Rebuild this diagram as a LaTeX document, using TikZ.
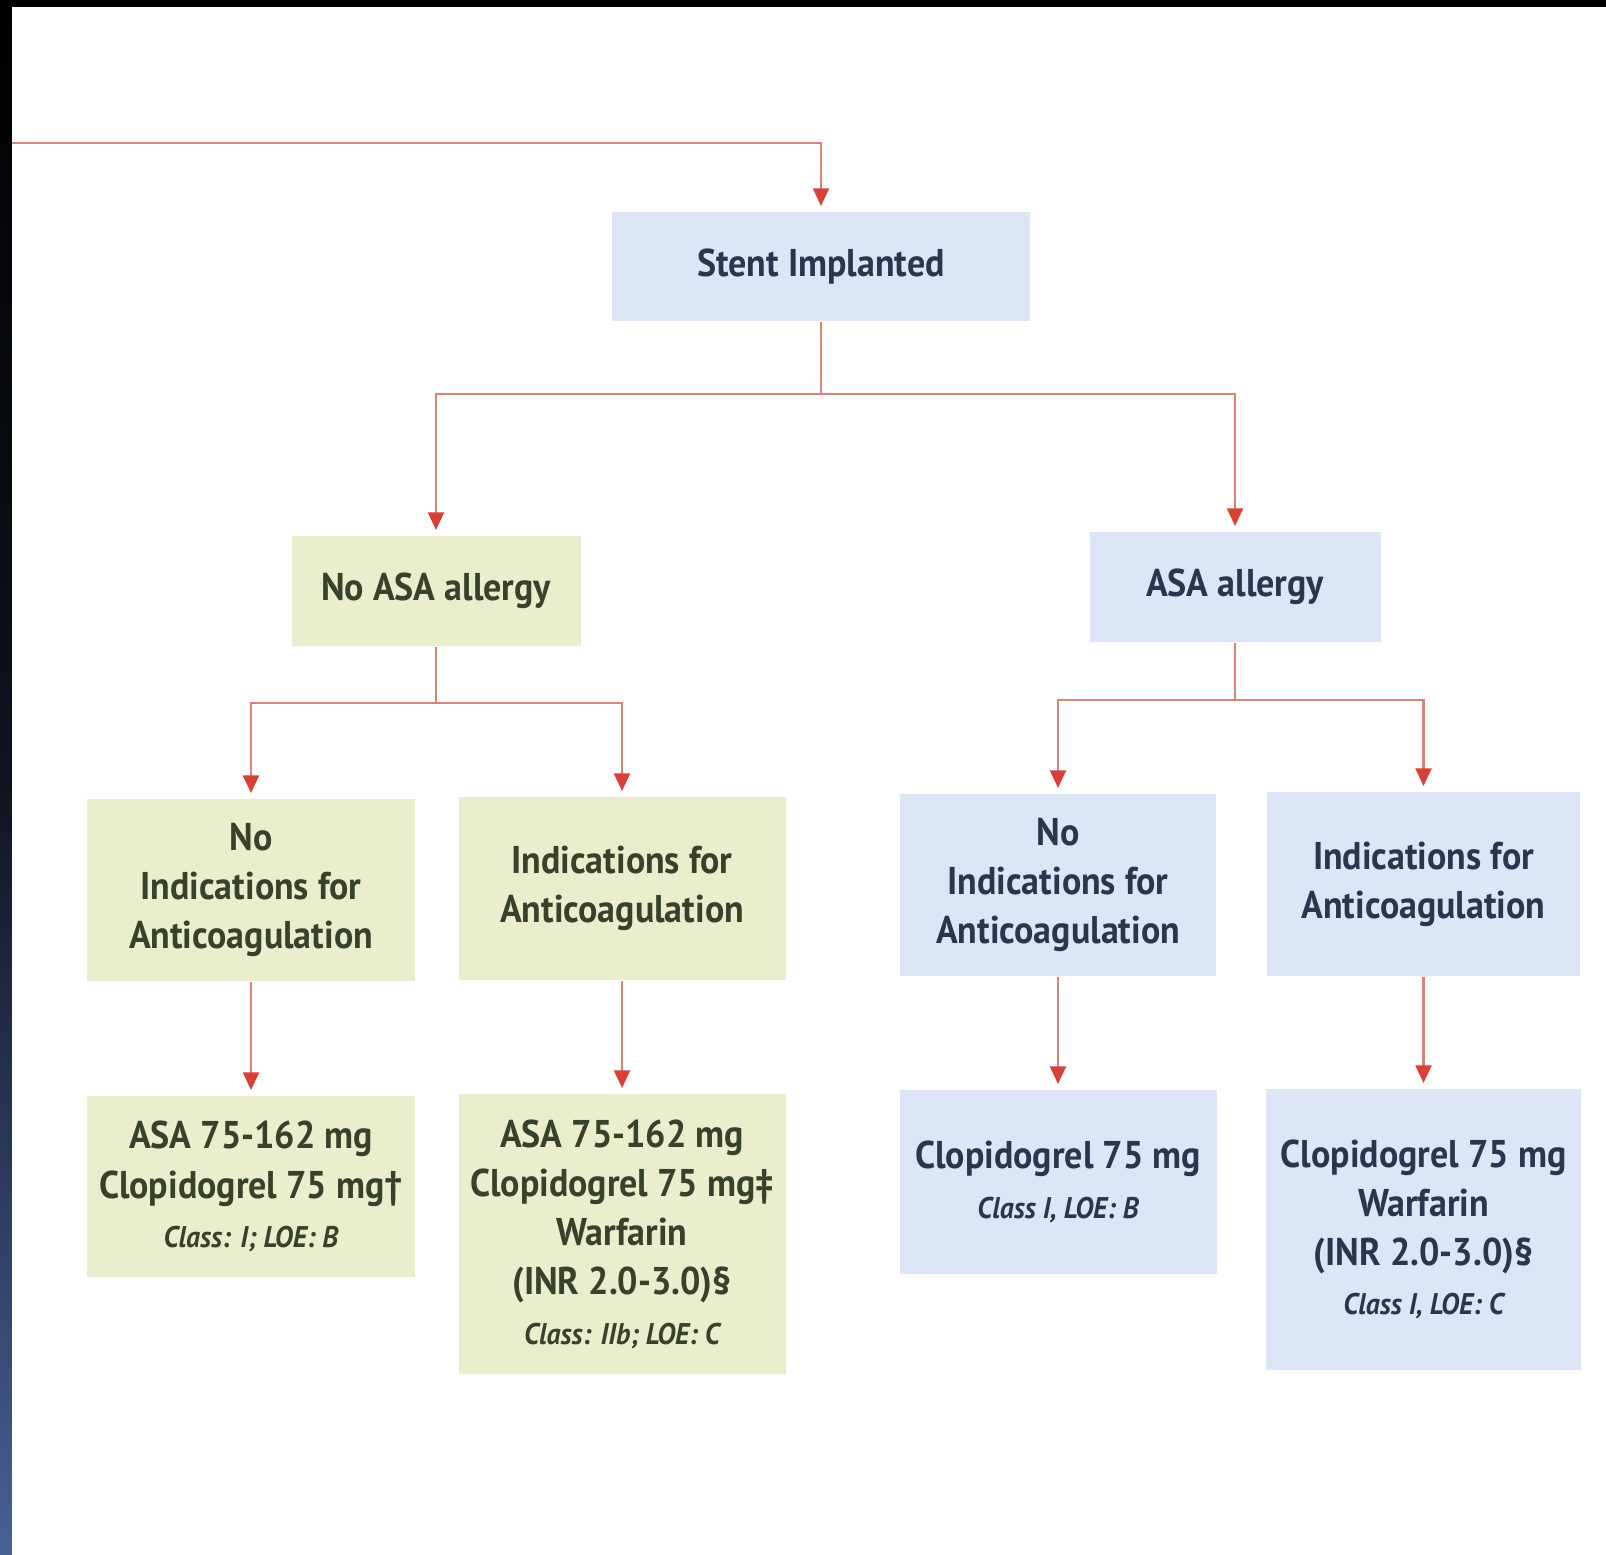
\documentclass[tikz,border=0pt]{standalone}
\usepackage{fontspec}
\setmainfont{PT Sans}[FakeStretch=0.93]
\usetikzlibrary{arrows.meta,positioning}
\definecolor{boxgreen}{RGB}{234,238,205}
\definecolor{boxblue}{RGB}{221,230,246}
\definecolor{txtgreen}{RGB}{56,66,42}
\definecolor{txtblue}{RGB}{42,54,78}
\definecolor{linkline}{RGB}{214,132,116}
\definecolor{linktip}{RGB}{214,64,54}
\definecolor{edgenavy}{RGB}{72,96,150}
\newcommand{\classline}[1]{{\itshape\fontsize{8.5}{14}\selectfont #1}}
\begin{document}
\begin{tikzpicture}[x=1cm,y=1cm,
    greenbox/.style={fill=boxgreen,text=txtgreen,align=center,inner sep=0pt,
      font=\bfseries\fontsize{11}{14}\selectfont},
    bluebox/.style={fill=boxblue,text=txtblue,align=center,inner sep=0pt,
      font=\bfseries\fontsize{11}{14}\selectfont},
    link/.style={draw=linkline,line width=0.7pt,shorten >=1.5pt,
      -{Triangle[width=4.5pt,length=5pt,color=linktip]}}]
  \useasboundingbox (0,0) rectangle (16.06,-15.54);
  \fill[white] (0,0) rectangle (16.06,-15.54);
  \shade[top color=black,bottom color=edgenavy,middle color=black!80!edgenavy] (0,0) rectangle (0.12,-15.54);
  \fill[black] (0,0) rectangle (16.06,-0.07);

  \node[bluebox,minimum width=4.18cm,minimum height=1.09cm] (stent) at (8.21,-2.665) {Stent Implanted};
  \node[greenbox,minimum width=2.89cm,minimum height=1.10cm] (noasa) at (4.36,-5.91) {No ASA allergy};
  \node[bluebox,minimum width=2.91cm,minimum height=1.10cm] (asa) at (12.35,-5.87) {ASA allergy};

  \node[greenbox,minimum width=3.28cm,minimum height=1.82cm] (noindl) at (2.51,-8.90) {No\\Indications for\\Anticoagulation};
  \node[greenbox,minimum width=3.27cm,minimum height=1.83cm] (indl) at (6.22,-8.885) {Indications for\\Anticoagulation};
  \node[bluebox,minimum width=3.16cm,minimum height=1.82cm] (noindr) at (10.58,-8.85) {No\\Indications for\\Anticoagulation};
  \node[bluebox,minimum width=3.13cm,minimum height=1.84cm] (indr) at (14.235,-8.84) {Indications for\\Anticoagulation};

  \node[greenbox,minimum width=3.28cm,minimum height=1.81cm] (asaclop) at (2.51,-11.865)
    {ASA 75-162 mg\\Clopidogrel 75 mg†\\\classline{Class: I; LOE: B}};
  \node[greenbox,minimum width=3.27cm,minimum height=2.80cm] (asaclopwarf) at (6.22,-12.34)
    {ASA 75-162 mg\\Clopidogrel 75 mg‡\\Warfarin\\(INR 2.0-3.0)§\\\classline{Class: IIb; LOE: C}};
  \node[bluebox,minimum width=3.17cm,minimum height=1.84cm] (clop) at (10.58,-11.82)
    {Clopidogrel 75 mg\\\classline{Class I, LOE: B}};
  \node[bluebox,minimum width=3.15cm,minimum height=2.81cm] (clopwarf) at (14.235,-12.295)
    {Clopidogrel 75 mg\\Warfarin\\(INR 2.0-3.0)§\\\classline{Class I, LOE: C}};

  \coordinate (entry) at (0.12,-1.43);
  \coordinate (splittop) at (8.21,-3.94);
  \coordinate (splitl) at (4.36,-7.03);
  \coordinate (splitr) at (12.35,-7.00);

  \draw[link] (entry) -| (stent);
  \draw[link] (stent) -- (splittop) -| (noasa);
  \draw[link] (splittop) -| (asa);
  \draw[link] (noasa) -- (splitl) -| (noindl);
  \draw[link] (splitl) -| (indl);
  \draw[link] (asa) -- (splitr) -| (noindr);
  \draw[link] (splitr) -| (indr);
  \draw[link] (noindl) -- (asaclop);
  \draw[link] (indl) -- (asaclopwarf);
  \draw[link] (noindr) -- (clop);
  \draw[link] (indr) -- (clopwarf);
\end{tikzpicture}
\end{document}
